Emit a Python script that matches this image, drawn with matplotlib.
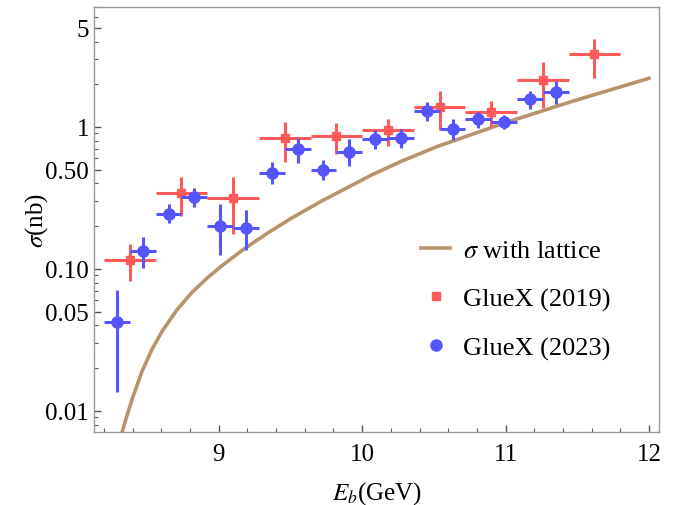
import numpy as np
import matplotlib
matplotlib.use("Agg")
from matplotlib import pyplot as plt
from matplotlib.lines import Line2D
from matplotlib.ticker import FixedLocator, NullFormatter

# GlueX 2019 (wide bins)
red_E = [8.38, 8.74, 9.10, 9.46, 9.82, 10.18, 10.54, 10.90, 11.26, 11.62]
red_dE = [0.18, 0.18, 0.18, 0.18, 0.18, 0.18, 0.18, 0.18, 0.18, 0.18]
red_sig = [0.116, 0.344, 0.314, 0.832, 0.869, 0.953, 1.38, 1.276, 2.14, 3.24]
red_hi = [0.149, 0.444, 0.447, 1.08, 1.07, 1.146, 1.78, 1.52, 2.89, 4.15]
red_lo = [0.082, 0.236, 0.177, 0.567, 0.641, 0.734, 0.953, 1.0, 1.37, 2.23]

# GlueX 2023 (narrow bins)
blue_E = [8.29, 8.47, 8.65, 8.83, 9.01, 9.19, 9.37, 9.55, 9.73, 9.91,
          10.09, 10.27, 10.45, 10.63, 10.81, 10.99, 11.17, 11.35]
blue_dE = [0.09] * 18
blue_sig = [0.0422, 0.1335, 0.245, 0.319, 0.202, 0.195, 0.477, 0.696, 0.497, 0.666,
            0.819, 0.832, 1.297, 0.963, 1.133, 1.085, 1.567, 1.765]
blue_hi = [0.0716, 0.168, 0.285, 0.37, 0.285, 0.259, 0.57, 0.841, 0.582, 0.819,
           0.948, 0.975, 1.50, 1.13, 1.276, 1.21, 1.79, 2.11]
blue_lo = [0.0135, 0.102, 0.209, 0.275, 0.1245, 0.137, 0.399, 0.561, 0.423, 0.531,
           0.696, 0.711, 1.10, 0.81, 0.99, 0.963, 1.33, 1.45]

# lattice curve
curve_E = [8.31, 8.325, 8.36, 8.395, 8.464, 8.534, 8.604, 8.709, 8.813, 8.918,
           9.022, 9.162, 9.336, 9.51, 9.72, 10.068, 10.278, 10.522, 10.989, 11.449, 12.0]
curve_sig = [0.0062, 0.00703, 0.00926, 0.01202, 0.01892, 0.02705, 0.03624, 0.0516, 0.06829, 0.08606,
             0.1053, 0.1349, 0.1777, 0.2286, 0.3017, 0.4602, 0.5756, 0.7269, 1.0636, 1.498, 2.202]

red = '#ff5a5a'
blue = '#5555ff'
tan = '#b8946c'

plt.rcParams['font.family'] = ['Liberation Serif', 'DejaVu Serif']
plt.rcParams['mathtext.fontset'] = 'stix'

fig = plt.figure(figsize=(6.73, 5.06), dpi=100)
ax = fig.add_axes([94 / 673, 73 / 506, 565 / 673, 425 / 506])

ax.plot(curve_E, curve_sig, color=tan, lw=2.6, zorder=2, solid_joinstyle='round')

r_err = [np.array(red_sig) - np.array(red_lo), np.array(red_hi) - np.array(red_sig)]
ax.errorbar(red_E, red_sig, xerr=red_dE, yerr=r_err, fmt='s', color=red,
            ms=5.5, elinewidth=2.2, capsize=0, zorder=3)
b_err = [np.array(blue_sig) - np.array(blue_lo), np.array(blue_hi) - np.array(blue_sig)]
ax.errorbar(blue_E, blue_sig, xerr=blue_dE, yerr=b_err, fmt='o', color=blue,
            ms=8, elinewidth=2.2, capsize=0, zorder=4)

ax.set_yscale('log')
ax.set_xlim(8.13, 12.07)
ax.set_ylim(0.0071, 7.0)

ax.set_xticks([9, 10, 11, 12])
ax.xaxis.set_minor_locator(FixedLocator(np.arange(8.2, 12.05, 0.2)))
ax.set_yticks([0.01, 0.05, 0.1, 0.5, 1, 5])
ax.set_yticklabels(['0.01', '0.05', '0.10', '0.50', '1', '5'])
yminor = [k * 10.0 ** d for d in (-3, -2, -1, 0) for k in range(2, 10)]
ax.yaxis.set_minor_locator(FixedLocator(yminor))
ax.yaxis.set_minor_formatter(NullFormatter())

ax.tick_params(which='both', direction='in', colors='#555555', labelcolor='black',
               labelsize=18, top=False, right=False)
ax.tick_params(axis='x', pad=8)
ax.tick_params(which='major', length=5, width=1)
ax.tick_params(which='minor', length=3, width=0.8)
for s in ax.spines.values():
    s.set_color('#999999')
    s.set_linewidth(1)

ax.set_xlabel(r'$E_b$(GeV)', fontsize=18, labelpad=10)
ax.set_ylabel(r'$\sigma$(nb)', fontsize=18, labelpad=-3)

handles = [Line2D([], [], color=tan, lw=2.6),
           Line2D([], [], ls='none', marker='s', color=red, ms=6),
           Line2D([], [], ls='none', marker='o', color=blue, ms=8)]
labels = [r'$\sigma$ with lattice', 'GlueX (2019)', 'GlueX (2023)']
ax.legend(handles, labels, loc='center left', bbox_to_anchor=(0.579, 0.313),
          frameon=False, fontsize=19, handlelength=1.1, handletextpad=0.5,
          labelspacing=0.95, borderpad=0, borderaxespad=0)

plt.savefig('out.png', dpi=100)
